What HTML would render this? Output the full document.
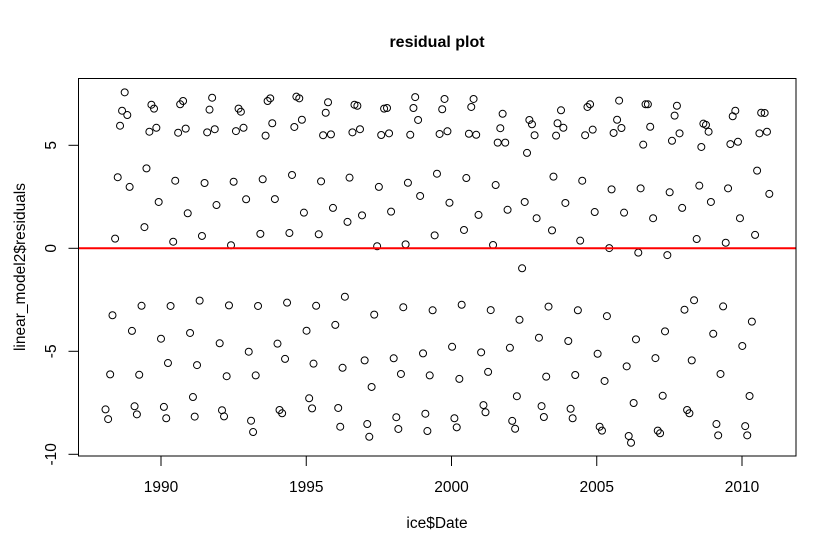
<!DOCTYPE html>
<html><head><meta charset="utf-8"><style>
html,body{margin:0;padding:0;background:#fff;}
svg{display:block;font-family:"Liberation Sans",Arial,sans-serif;}
</style></head><body>
<svg id="chart" width="836" height="555" viewBox="0 0 836 555" xmlns="http://www.w3.org/2000/svg">
<rect width="836" height="555" fill="#fff"/>
<text x="437" y="47" text-anchor="middle" font-size="16" font-weight="bold">residual plot</text>
<text x="437" y="528" text-anchor="middle" font-size="15.5">ice$Date</text>
<text transform="translate(25,267) rotate(-90)" text-anchor="middle" font-size="15.5">linear_model2$residuals</text>
<g id="xaxis"></g>
<g id="yaxis"></g>
<g id="points"></g>
<line id="zero" stroke="#ff0000" stroke-width="2"/>
<rect x="78.5" y="78.5" width="717.5" height="377.5" fill="none" stroke="#000" stroke-width="1"/>
</svg>
<script>
const xTicks = [1990, 1995, 2000, 2005, 2010];
const yTicks = [-10, -5, 0, 5];
const dates = [
1988.75,1988.66,1988.84,1988.59,1989.67,1989.76,1989.60,1989.84,1990.66,1990.76,1990.59,1990.85,
1988.51,1988.92,1989.50,1989.92,1990.49,1990.92,1989.43,1988.42,1990.42,
1988.33,1989.33,1990.33,1989.00,1990.00,1991.00,1988.25,1989.25,1990.24,
1988.09,1988.18,1989.09,1989.17,1990.10,1990.18,
1991.76,1991.67,1991.59,1991.85,1992.67,1992.75,1992.58,1992.84,1993.67,1993.76,1993.83,1993.60,
1994.66,1994.76,1994.59,1994.85,1991.50,1992.50,1993.50,1994.51,1991.91,1992.93,1993.92,1994.92,
1991.41,1992.41,1993.42,1994.42,1991.33,1992.34,1993.34,1994.34,1992.02,1993.02,1994.01,1995.01,
1991.24,1992.26,1993.26,1994.27,1991.10,1992.10,1993.10,1993.17,1994.08,1994.17,1995.10,1991.16,1992.17,
1995.75,1995.67,1995.58,1995.85,1996.66,1996.76,1996.59,1996.85,1997.68,1997.78,1997.58,1997.85,
1998.75,1998.69,1998.85,1998.58,1995.51,1996.49,1997.50,1998.50,1995.92,1996.42,1996.92,1997.92,1998.92,
1995.43,1997.44,1998.42,1995.34,1996.33,1997.34,1998.34,1996.00,1995.25,1996.25,1997.01,1998.01,1998.26,
1999.02,1999.25,1997.25,1995.20,1996.10,1996.17,1997.10,1997.17,1998.10,1998.17,1999.10,1999.17,
1999.76,1999.68,1999.59,1999.86,2000.76,2000.68,2000.60,2000.85,2001.76,2001.68,2001.59,2001.85,
2002.68,2002.77,2002.86,2002.60,1999.50,2000.51,2001.52,1999.93,2000.93,2001.93,2002.52,2002.93,
1999.42,2000.43,2001.43,2002.43,1999.35,2000.35,2001.35,2002.34,2003.34,2000.02,2001.02,2002.01,2003.01,
2000.27,2001.26,2003.26,2002.25,2000.10,2000.18,2001.10,2001.17,2002.09,2002.19,2003.10,2003.18,
2003.77,2003.65,2003.85,2003.60,2004.68,2004.77,2004.60,2004.86,2005.77,2005.70,2005.85,2005.58,
2006.68,2006.76,2006.84,2006.60,2003.51,2004.50,2005.51,2006.51,2007.51,2003.92,2004.93,2005.94,2006.94,
2003.46,2004.43,2005.43,2006.43,2007.43,2004.35,2005.35,2004.02,2005.03,2006.35,2007.35,2006.03,2007.02,
2004.26,2005.27,2006.27,2007.27,2004.10,2004.17,2005.10,2005.18,2006.10,2006.18,2007.10,2007.18,
2007.76,2007.68,2007.85,2007.59,2008.67,2008.76,2008.85,2008.60,2009.77,2009.68,2009.86,2009.60,
2010.66,2010.78,2010.86,2010.60,2008.53,2009.52,2010.52,2010.94,2007.94,2008.93,2009.93,2010.45,
2008.44,2009.44,2008.35,2008.02,2009.35,2010.34,2009.01,2010.01,2008.27,2009.26,2010.26,
2008.11,2008.19,2009.12,2009.18,2010.11,2010.18
];
const residuals = [
7.57,6.68,6.47,5.95,6.97,6.78,5.66,5.85,6.99,7.15,5.61,5.81,
3.45,2.98,3.88,2.25,3.28,1.70,1.03,0.47,0.32,
-3.25,-2.79,-2.80,-4.01,-4.39,-4.11,-6.12,-6.14,-5.57,
-7.82,-8.29,-7.67,-8.06,-7.70,-8.25,
7.31,6.73,5.63,5.78,6.78,6.63,5.69,5.85,7.15,7.28,6.07,5.47,
7.36,7.28,5.89,6.24,3.17,3.23,3.35,3.56,2.10,2.38,2.39,1.73,
0.60,0.15,0.70,0.74,-2.54,-2.77,-2.80,-2.64,-4.61,-5.02,-4.63,-4.00,
-5.67,-6.21,-6.17,-5.37,-7.22,-7.86,-8.37,-8.92,-7.85,-8.01,-7.28,-8.17,-8.16,
7.09,6.58,5.49,5.53,6.97,6.92,5.63,5.78,6.78,6.81,5.50,5.58,
7.34,6.81,6.23,5.51,3.25,3.43,2.98,3.18,1.96,1.28,1.60,1.78,2.54,
0.68,0.10,0.19,-2.79,-2.35,-3.22,-2.86,-3.72,-5.60,-5.80,-5.44,-5.34,-6.10,
-5.10,-6.17,-6.73,-7.77,-7.75,-8.66,-8.53,-9.15,-8.20,-8.77,-8.03,-8.87,
7.25,6.75,5.55,5.68,7.25,6.86,5.56,5.51,6.53,5.83,5.13,5.13,
6.23,6.02,5.49,4.63,3.62,3.41,3.07,2.21,1.62,1.87,2.25,1.46,
0.63,0.89,0.16,-0.97,-3.01,-2.74,-3.00,-3.47,-2.83,-4.78,-5.05,-4.83,-4.34,
-6.34,-6.00,-6.23,-7.18,-8.25,-8.69,-7.61,-7.96,-8.38,-8.76,-7.66,-8.19,
6.70,6.07,5.85,5.47,6.86,6.99,5.49,5.76,7.17,6.24,5.84,5.60,
6.99,6.99,5.90,5.03,3.48,3.28,2.86,2.91,2.72,2.20,1.76,1.73,1.46,
0.87,0.37,0.01,-0.21,-0.33,-3.01,-3.29,-4.50,-5.12,-4.42,-4.03,-5.73,-5.33,
-6.15,-6.44,-7.51,-7.16,-7.79,-8.25,-8.66,-8.85,-9.11,-9.44,-8.85,-8.98,
6.92,6.44,5.58,5.22,6.05,5.99,5.66,4.92,6.68,6.41,5.17,5.06,
6.58,6.57,5.66,5.58,3.04,2.91,3.77,2.64,1.96,2.25,1.46,0.65,
0.45,0.27,-2.52,-2.98,-2.82,-3.56,-4.15,-4.74,-5.44,-6.10,-7.17,
-7.85,-8.01,-8.53,-9.08,-8.63,-9.08
];
const NS = 'http://www.w3.org/2000/svg';
function xScale(v){ return 161 + (v - 1990) * 29.05; }
function yScale(v){ return 248.3 - v * 20.6; }
const plotLeft = 78.5, plotRight = 796, plotBottom = 456;

const xa = document.getElementById('xaxis');
xTicks.forEach(t => {
  const x = xScale(t);
  const ln = document.createElementNS(NS, 'line');
  ln.setAttribute('x1', x); ln.setAttribute('x2', x);
  ln.setAttribute('y1', plotBottom); ln.setAttribute('y2', plotBottom + 10);
  ln.setAttribute('stroke', '#000');
  
  
  xa.appendChild(ln);
  const tx = document.createElementNS(NS, 'text');
  tx.setAttribute('x', x); tx.setAttribute('y', 492);
  tx.setAttribute('text-anchor', 'middle'); tx.setAttribute('font-size', '15.5');
  tx.textContent = t;
  
  
  xa.appendChild(tx);
});
const xl = document.createElementNS(NS, 'line');
xl.setAttribute('x1', xScale(xTicks[0])); xl.setAttribute('x2', xScale(xTicks[xTicks.length-1]));
xl.setAttribute('y1', plotBottom); xl.setAttribute('y2', plotBottom); xl.setAttribute('stroke', '#000');


xa.appendChild(xl);

const ya = document.getElementById('yaxis');
yTicks.forEach(t => {
  const y = yScale(t);
  const ln = document.createElementNS(NS, 'line');
  ln.setAttribute('x1', plotLeft - 10); ln.setAttribute('x2', plotLeft);
  ln.setAttribute('y1', y); ln.setAttribute('y2', y);
  ln.setAttribute('stroke', '#000');
  
  
  ya.appendChild(ln);
  const tx = document.createElementNS(NS, 'text');
  tx.setAttribute('transform', 'translate(56,' + y + ') rotate(-90)');
  tx.setAttribute('text-anchor', 'middle'); tx.setAttribute('font-size', '15.5');
  tx.textContent = t;
  
  
  ya.appendChild(tx);
});

const pts = document.getElementById('points');
dates.forEach((d, i) => {
  const c = document.createElementNS(NS, 'circle');
  c.setAttribute('cx', xScale(d)); c.setAttribute('cy', yScale(residuals[i]));
  c.setAttribute('r', 3.5); c.setAttribute('fill', 'none');
  c.setAttribute('stroke', '#000'); c.setAttribute('stroke-width', '1');
  
  
  pts.appendChild(c);
});

const z = document.getElementById('zero');
z.setAttribute('x1', plotLeft); z.setAttribute('x2', plotRight);
z.setAttribute('y1', yScale(0)); z.setAttribute('y2', yScale(0));
</script>
</body></html>
